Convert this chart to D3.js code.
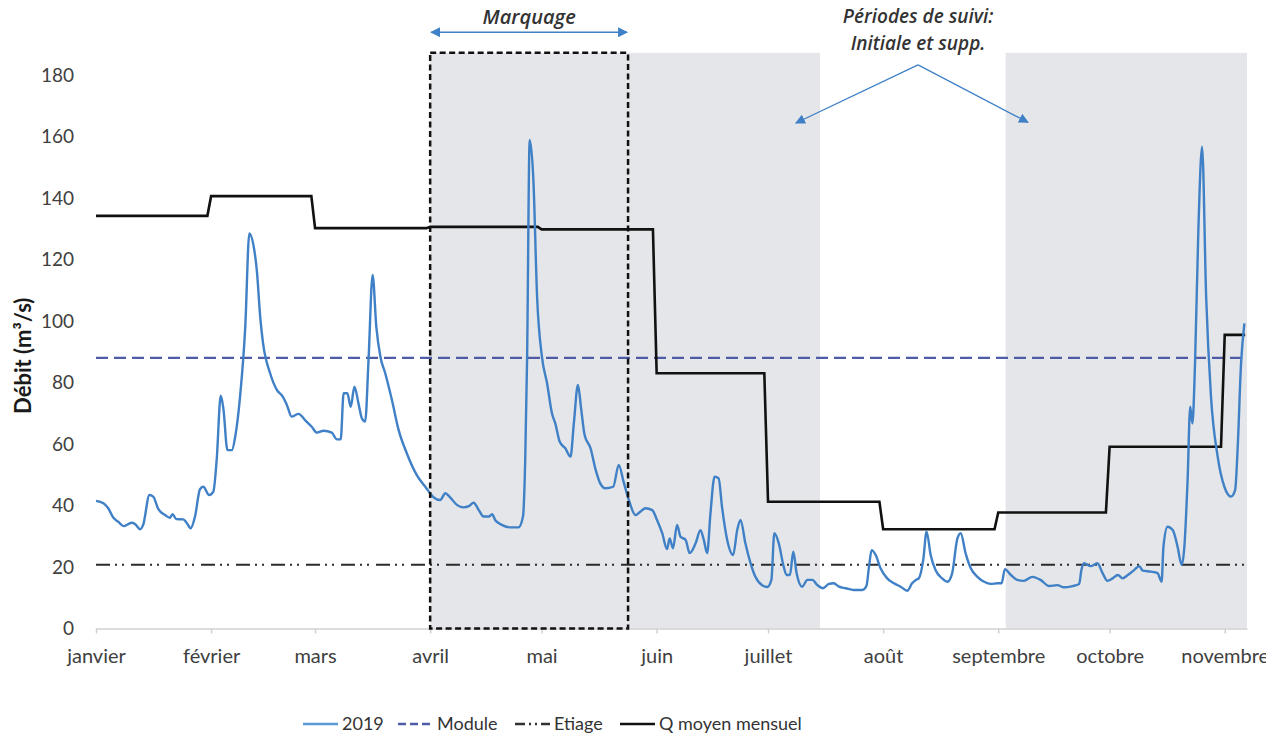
<!DOCTYPE html>
<html><head><meta charset="utf-8">
<script src="https://cdn.jsdelivr.net/npm/d3@7"></script>
<style>
body{margin:0;background:#fff;}
svg{display:block;font-family:Lato,"Open Sans",sans-serif;}
</style>
</head><body>
<svg id="chart" width="1266" height="746"></svg>
<script>
// ---------- data ----------
const months = ["janvier","février","mars","avril","mai","juin","juillet","août","septembre","octobre","novembre"];
const qMoyenMensuel = [134.2,140.6,130.2,130.6,129.8,83.0,41.2,32.3,37.7,59.1,95.5];
const moduleValue = 88;
const etiageValue = 20.7;
const yTicks = [0,20,40,60,80,100,120,140,160,180];
// follow-up periods (day of year, 0 = 1 Jan)
const suiviStart = [90, 245];
const suiviEnd = [195, 310];
const marquageStart = 90;
const marquageEnd = 143.3;
// daily discharge 2019 (day of year, m3/s)
const flowDay = [0,2,3.3,4.7,6,7.4,9.6,10.5,11.9,12.7,14.4,15.4,16.8,18.6,19.9,20.6,21.6,23.5,24.4,25.5,26.7,28,28.9,30.5,31.6,32.5,33.6,34.3,35.4,36.6,37.5,38.8,40.2,41.3,42.4,43.3,44.3,45,46.9,48.7,50.3,51.4,52.7,54.5,56.3,58.1,59.5,61.3,63.5,64.9,65.9,66.7,67.7,68.6,69.6,70.7,71.6,72.5,73.4,74.5,75.5,76.6,77.9,79.7,81.5,83.7,86.4,88.7,90.9,92.7,94.1,95.2,97.2,99,100.4,101.7,103.1,104.4,105.8,106.7,107.5,109.3,111.6,113.8,115,115.6,116.1,116.8,117.8,118.8,120.1,121.5,122.8,123.7,124.9,126.4,127.8,128.7,129.8,130.7,131.6,133.2,134.6,135.8,137.2,139.3,140.8,142.1,143.5,145.3,146.6,148,149.8,151.1,152.5,153.8,154.5,155.4,156.5,157.4,158.8,159.9,161.5,162.8,163.7,164.6,165.5,166.6,167.7,168.6,170,171.6,172.7,173.6,174.9,176.3,177.6,179.5,180.8,181.9,182.7,183.9,185.1,186,186.9,187.8,188.7,190.2,191.6,192.9,194.3,195.8,197.4,198.7,200.1,201.9,204.1,206.4,207.5,208.2,208.9,210,211.3,213.1,214.9,216.7,218.5,219.8,220.8,221.6,222.8,223.7,224.8,226.1,227.9,229.3,230.6,232,232.9,234.2,235.6,237.4,239.2,241,242.8,243.9,244.8,246.4,248.1,249.9,252.2,254.4,256.7,258.9,260.7,263,264.8,265.4,266.1,267.9,269.7,271.1,272.4,273.8,275.2,276.5,277.9,279.6,281,281.9,284.1,285.9,287,287.5,288.6,290,291.3,292.4,293.1,294,294.7,295.3,296,296.9,297.9,299,300.3,302.1,303.9,305.7,306.8,307.5,308.4,309.3];
const flowValue = [41.5,40.7,39.1,36,34.7,33.3,34.4,34,32.3,33.7,43.4,42.9,38.8,36.9,36,37.2,35.6,35.5,34.4,32.6,36.6,45.3,46.1,43.4,44.5,54.8,75.7,71.6,58,58,62.4,75.4,98.1,128.5,124.7,116.6,100.3,92.7,83,77.6,75.4,72.7,68.9,69.8,67.8,65.6,63.7,64.3,63.7,61.5,61.5,76.5,76.5,72.1,78.6,73.2,68.4,67.3,87.3,115,98.1,88.4,83,74.3,64.6,57,49.9,46.1,42.7,41.8,44,42.9,40.2,39.4,39.8,40.9,38.5,36.4,36.4,37.2,35.3,33.7,32.9,32.9,36.4,54.8,87.3,158.9,145.9,107.9,88.4,79.7,70,66.7,60.7,58.6,55.9,66.7,79.2,71.1,62.9,58.6,51.5,47.2,45.6,46.1,53.2,47.7,41.8,36.9,38,39.1,38.5,35.3,31,25.8,29.3,26.1,33.7,29.9,28.8,24.5,27.7,32,28.8,24.5,37.5,49.4,48.8,39.6,28.8,23.9,32,35.3,27.7,21.2,16.8,14,13.5,15.8,31,27.7,20.7,17.4,17.4,25,18,13.6,15.8,15.8,14.1,13.1,14.5,14.7,13.6,13.1,12.5,12.5,13.8,20.1,25.5,23.9,19.6,16.3,14.7,13.6,12.3,14.7,15.8,16.3,22.3,31.5,23.9,19,16.3,15.2,18,29.3,31,24.5,19.6,16.8,15.2,14.5,14.7,14.7,19.3,17.4,15.8,15.5,16.8,15.8,13.8,14.1,13.4,13.8,14.5,19,21.2,20.3,21.2,18,15.5,16.3,17.4,16.3,17.4,19,20.3,18.8,18.5,18,15.2,26.6,33.1,32,26.6,20.7,26.1,48.3,72.1,66.7,86.2,129.6,156.7,107.9,75.4,55.9,46.1,42.9,45,59.1,86.2,99.2];

// ---------- scales ----------
const t0 = Date.UTC(2019,0,1);
const dayToDate = d => new Date(t0 + d*864e5);
const monthStart = months.map((m,i) => new Date(Date.UTC(2019,i,1)));
const x = d3.scaleUtc().domain([dayToDate(0), dayToDate(310)]).range([96,1247]);
const y = d3.scaleLinear().domain([0,180]).range([628.5,75]);

const svg = d3.select("#chart");
const blue = "#3f80c6";
const modBlue = "#4e5ba6";
const txt = "#404040";

// shaded follow-up periods
const topVal = 187.2;
svg.append("g").selectAll("rect").data(suiviStart).join("rect")
  .attr("x", (d)=>x(dayToDate(d)))
  .attr("width", (d,i)=>x(dayToDate(suiviEnd[i]))-x(dayToDate(d)))
  .attr("y", y(topVal)).attr("height", y(0)-y(topVal))
  .attr("fill", "#e4e6e9");

// x axis
const xAxis = d3.axisBottom(x).tickValues(monthStart)
  .tickFormat((d,i)=>months[i]).tickSize(5).tickSizeOuter(0).tickPadding(15);
const gx = svg.append("g").attr("transform", `translate(0,${y(0)})`).call(xAxis);
gx.select(".domain").attr("stroke","#d0d0d0").attr("stroke-width",1.5);
gx.selectAll(".tick line").attr("stroke","#d0d0d0").attr("stroke-width",1.5);
gx.selectAll(".tick text").attr("fill",txt).style("font-size","20px").style("font-family","Lato, sans-serif");

// y tick labels
svg.append("g").selectAll("text").data(yTicks).join("text")
  .attr("x", 74).attr("y", d=>y(d)).attr("dy","0.35em")
  .attr("text-anchor","end").attr("fill",txt)
  .style("font-size","19px").text(d=>d);

// y title
svg.append("text")
  .attr("transform", `translate(31,${(y(0)+y(180))/2 + 4}) rotate(-90)`)
  .attr("text-anchor","middle").attr("fill","#1a1a1a")
  .style("font-size","22px").style("font-weight","700")
  .text("Débit (m³/s)");

// module & etiage
svg.append("line").attr("x1",x.range()[0]).attr("x2",x.range()[1])
  .attr("y1",y(moduleValue)).attr("y2",y(moduleValue))
  .attr("stroke",modBlue).attr("stroke-width",2.2).attr("stroke-dasharray","12,6");
svg.append("line").attr("x1",x.range()[0]).attr("x2",x.range()[1])
  .attr("y1",y(etiageValue)).attr("y2",y(etiageValue))
  .attr("stroke","#2b2b2b").attr("stroke-width",2).attr("stroke-dasharray","14,5,2,5,2,7");

// monthly mean (stepped, daily resolution)
const qPts = [];
qMoyenMensuel.forEach((v,i)=>{
  const s = monthStart[i];
  const e = i < 10 ? new Date(Date.UTC(2019,i+1,1) - 864e5) : dayToDate(309.5);
  qPts.push([s,v],[e,v]);
});
svg.append("path").datum(qPts)
  .attr("d", d3.line().x(d=>x(d[0])).y(d=>y(d[1])))
  .attr("fill","none").attr("stroke","#111").attr("stroke-width",2.6);

// 2019 flow
const flow = flowDay.map((d,i)=>[dayToDate(d), flowValue[i]]);
svg.append("path").datum(flow)
  .attr("d", d3.line().x(d=>x(d[0])).y(d=>y(d[1])).curve(d3.curveMonotoneX))
  .attr("fill","none").attr("stroke",blue).attr("stroke-width",2.4).attr("stroke-linejoin","round");

// marquage box
svg.append("rect")
  .attr("x", x(dayToDate(marquageStart))).attr("y", y(topVal))
  .attr("width", x(dayToDate(marquageEnd))-x(dayToDate(marquageStart)))
  .attr("height", y(0)-y(topVal))
  .attr("fill","none").attr("stroke","#111").attr("stroke-width",2.5).attr("stroke-dasharray","6,3.5");

// arrow markers
const defs = svg.append("defs");
defs.append("marker").attr("id","ah").attr("viewBox","0 0 10 10").attr("refX",9).attr("refY",5)
  .attr("markerWidth",10).attr("markerHeight",10).attr("markerUnits","userSpaceOnUse").attr("orient","auto-start-reverse")
  .append("path").attr("d","M0,0 L10,5 L0,10 Z").attr("fill",blue);

// Marquage annotation
const annY = 193.9;
svg.append("line")
  .attr("x1", x(dayToDate(marquageStart))+1).attr("x2", x(dayToDate(marquageEnd))-1)
  .attr("y1", y(annY)).attr("y2", y(annY))
  .attr("stroke",blue).attr("stroke-width",1.5)
  .attr("marker-start","url(#ah)").attr("marker-end","url(#ah)");
svg.append("text")
  .attr("x", (x(dayToDate(marquageStart))+x(dayToDate(marquageEnd)))/2).attr("y", 24)
  .attr("text-anchor","middle").attr("fill","#333")
  .style("font-size","20px").style("font-style","italic").style("font-weight","600")
  .style("font-family","'Open Sans',sans-serif")
  .text("Marquage");

// Périodes de suivi annotation
const vtx = [221.4, 183.3];
const tips = [[188.5, 164.4],[251, 164.6]];
tips.forEach(t=>{
  svg.append("line")
    .attr("x1", x(dayToDate(vtx[0]))).attr("y1", y(vtx[1]))
    .attr("x2", x(dayToDate(t[0]))).attr("y2", y(t[1]))
    .attr("stroke",blue).attr("stroke-width",1.3).attr("marker-end","url(#ah)");
});
const ptx = svg.append("text").attr("text-anchor","middle").attr("fill","#333")
  .style("font-size","19px").style("font-style","italic").style("font-weight","600")
  .style("font-family","'Open Sans',sans-serif");
ptx.append("tspan").attr("x", x(dayToDate(vtx[0]))).attr("y", 23).text("Périodes de suivi:");
ptx.append("tspan").attr("x", x(dayToDate(vtx[0]))).attr("y", 50).text("Initiale et supp.");

// legend
const legend = [
  {label:"2019", color:"#5b9bd5", dash:null},
  {label:"Module", color:modBlue, dash:"8,4"},
  {label:"Etiage", color:"#333", dash:"10,4,2,4,2,4"},
  {label:"Q moyen mensuel", color:"#111", dash:null}
];
const legX = [303, 398, 515, 620];
const lg = svg.append("g").selectAll("g").data(legend).join("g")
  .attr("transform",(d,i)=>`translate(${legX[i]},724)`);
lg.append("line").attr("x1",0).attr("x2",35).attr("y1",0).attr("y2",0)
  .attr("stroke",d=>d.color).attr("stroke-width",2.5).attr("stroke-dasharray",d=>d.dash);
lg.append("text").attr("x",39).attr("dy","0.35em").attr("fill","#333")
  .style("font-size","18px").text(d=>d.label);
</script>
</body></html>
